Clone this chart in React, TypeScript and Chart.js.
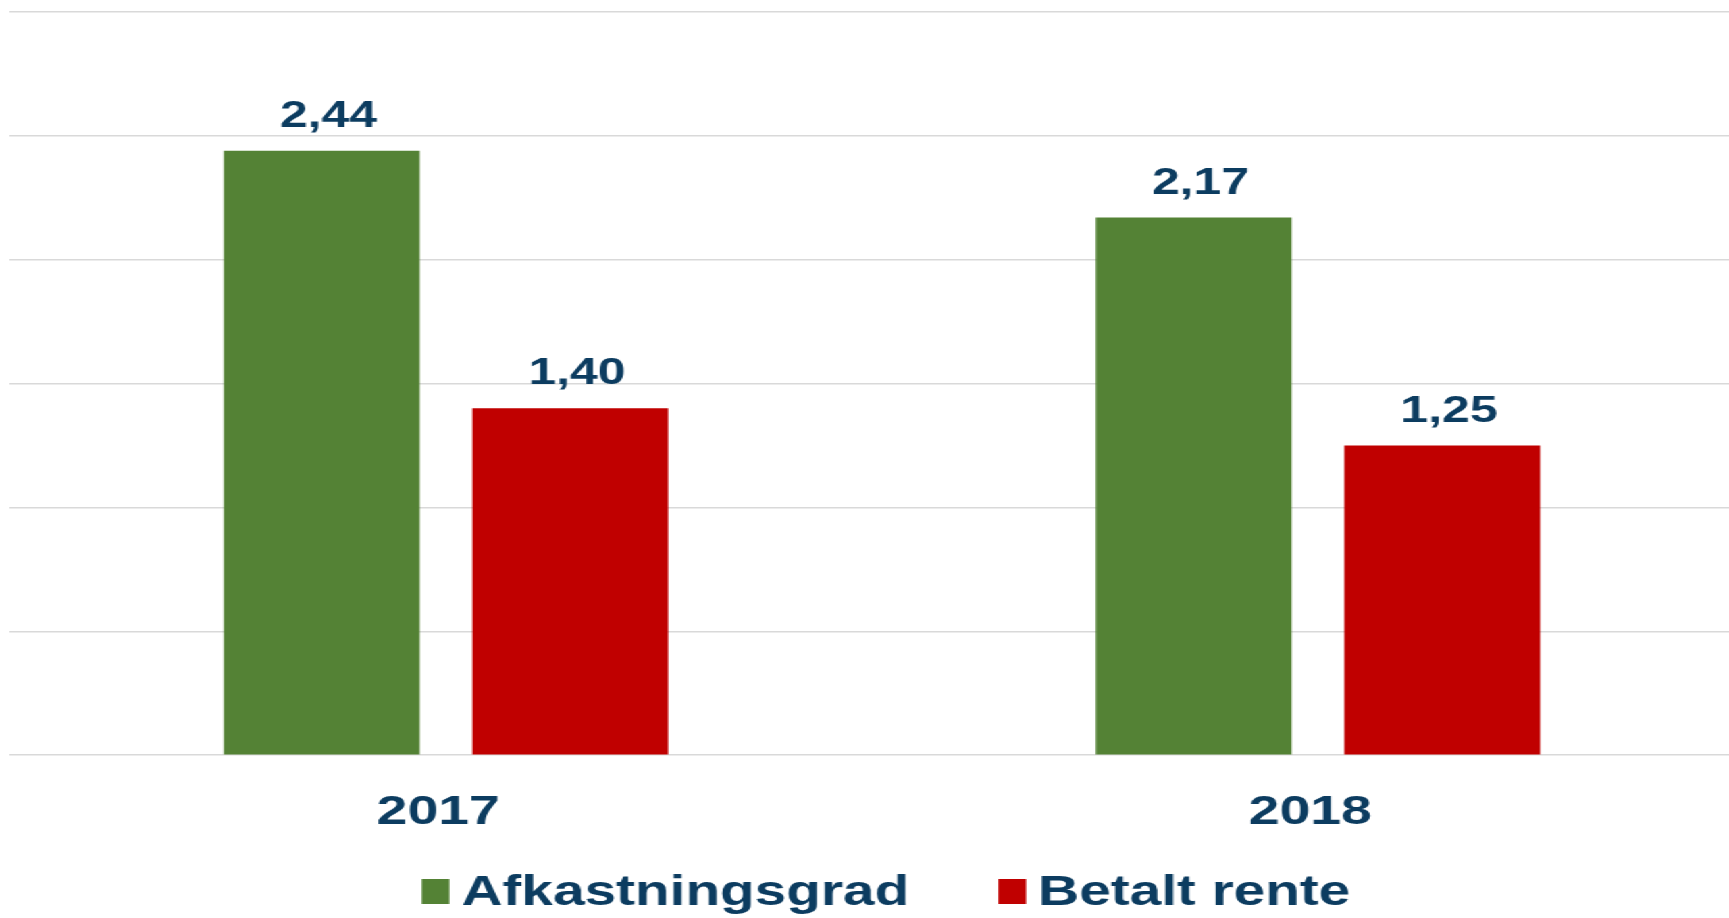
import React, { useEffect, useRef } from "react";
import { Chart, registerables } from "chart.js";

Chart.register(...registerables);

// ---- data ----
const categories = ["2017", "2018"];
const seriesNames = ["Afkastningsgrad", "Betalt rente"];
const afkastningsgrad = [2.44, 2.17];
const betaltRente = [1.4, 1.25];
const yMin = 0;
const yMax = 3;
const yStep = 0.5;

// ---- styles ----
const CANVAS_W = 1300;
const CANVAS_H = 918;
const VISIBLE_W = 1280;
const STRETCH = 1729 / VISIBLE_W;
const TEXT = "#0c3c60";
const GREEN = "#548235";
const RED = "#C00000";
const GRID = "#d9d9d9";
const FONT = "'Liberation Sans', Arial, Helvetica, sans-serif";

const fmt = (v: number) => v.toFixed(2).replace(".", ",");

const valueLabels = {
  id: "valueLabels",
  afterDatasetsDraw(chart: any) {
    const ctx = chart.ctx;
    ctx.save();
    ctx.font = `bold 37px ${FONT}`;
    ctx.fillStyle = TEXT;
    ctx.textAlign = "center";
    ctx.textBaseline = "alphabetic";
    chart.data.datasets.forEach((ds: any, i: number) => {
      const meta = chart.getDatasetMeta(i);
      meta.data.forEach((bar: any, j: number) => {
        ctx.fillText(fmt(ds.data[j]), bar.x + 5, bar.y - 24);
      });
    });
    ctx.restore();
  },
};

const customLegend = {
  id: "customLegend",
  afterDraw(chart: any) {
    const ctx = chart.ctx;
    const ds = chart.data.datasets;
    ctx.save();
    ctx.font = `bold 42px ${FONT}`;
    const boxW = 20.5;
    const boxH = 25;
    const gap = 9;
    const itemGap = 66;
    const widths = ds.map((d: any) => ctx.measureText(d.label).width);
    const total =
      widths.reduce((s: number, w: number) => s + boxW + gap + w, 0) +
      itemGap * (ds.length - 1);
    let x = (chart.chartArea.left + chart.chartArea.right) / 2 - total / 2 + 3;
    const baseline = chart.height - 13;
    const boxTop = chart.height - 39;
    ds.forEach((d: any, i: number) => {
      ctx.fillStyle = d.backgroundColor;
      ctx.fillRect(x, boxTop, boxW, boxH);
      ctx.fillStyle = TEXT;
      ctx.textAlign = "left";
      ctx.textBaseline = "alphabetic";
      ctx.fillText(d.label, x + boxW + gap, baseline);
      x += boxW + gap + widths[i] + itemGap;
    });
    ctx.restore();
  },
};

export default function App() {
  const ref = useRef<HTMLCanvasElement>(null);

  useEffect(() => {
    if (!ref.current) return;
    const chart = new Chart(ref.current, {
      type: "bar",
      data: {
        labels: categories,
        datasets: [
          {
            label: seriesNames[0],
            data: afkastningsgrad,
            backgroundColor: GREEN,
            categoryPercentage: 0.57,
            barPercentage: 0.788,
          },
          {
            label: seriesNames[1],
            data: betaltRente,
            backgroundColor: RED,
            categoryPercentage: 0.57,
            barPercentage: 0.788,
          },
        ],
      },
      options: {
        responsive: false,
        animation: false,
        devicePixelRatio: 1,
        layout: { padding: { left: 7.4, right: 1.5, top: 12, bottom: 47.6 } },
        plugins: {
          legend: { display: false },
          tooltip: { enabled: false },
        },
        scales: {
          x: {
            grid: { display: false, drawTicks: false },
            border: { display: false },
            ticks: {
              color: TEXT,
              font: { family: FONT, size: 41, weight: "bold" },
              padding: 33,
              maxRotation: 0,
              autoSkip: false,
              callback: (_v: any, i: number) => categories[i] + " ",
            },
          },
          y: {
            min: yMin,
            max: yMax,
            ticks: { display: false, stepSize: yStep },
            grid: { color: GRID, lineWidth: 1.5, drawTicks: false },
            border: { display: false },
          },
        },
      },
      plugins: [valueLabels, customLegend],
    } as any);
    return () => chart.destroy();
  }, []);

  return (
    <div
      style={{
        position: "fixed",
        left: 0,
        top: 0,
        width: VISIBLE_W,
        height: CANVAS_H,
        overflow: "hidden",
        background: "#ffffff",
        transform: `scaleX(${STRETCH})`,
        transformOrigin: "0 0",
      }}
    >
      <canvas
        ref={ref}
        width={CANVAS_W}
        height={CANVAS_H}
        style={{ display: "block" }}
      />
    </div>
  );
}
